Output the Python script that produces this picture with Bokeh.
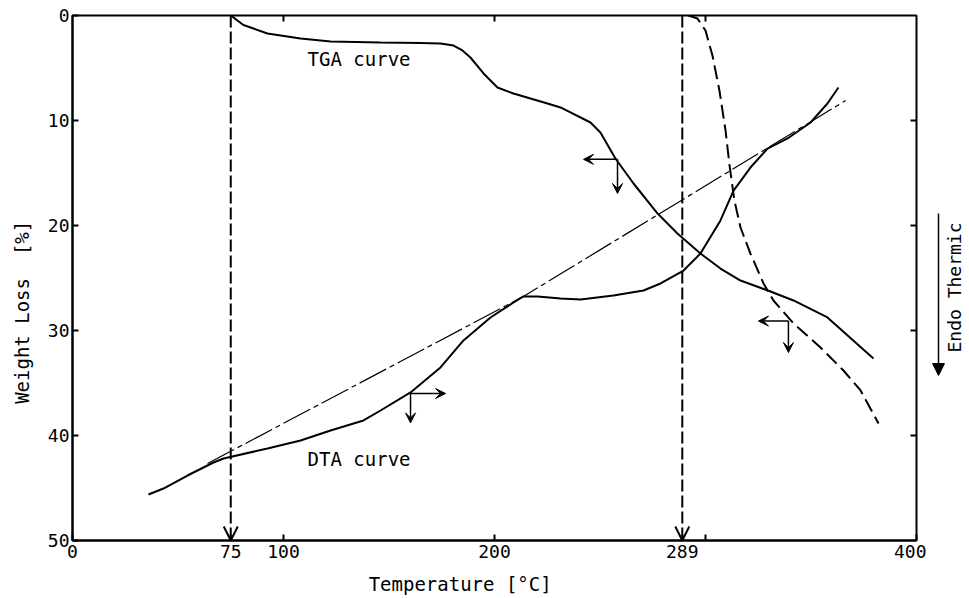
import numpy as np
from bokeh.plotting import figure
from bokeh.layouts import row
from bokeh.models import (Range1d, FixedTicker, Arrow, OpenHead,
                          VeeHead, NormalHead, Label)
from bokeh.embed import file_html
from bokeh.resources import INLINE

FONT = "DejaVu Sans Mono"
NB = "\u00a0"

# ---------------- data ----------------
x_ticks = [0, 75, 100, 200, 289, 300, 400]
x_tick_labels = {0: "0", 75: "75", 100: "100", 200: "200", 289: "289", 300: "", 400: "400"}
y_ticks = [0, 10, 20, 30, 40, 50]
top_ticks = [100, 200, 300]
right_ticks = [10, 20, 30, 40]

# TGA curve (solid)
tga_temp = [75, 81, 92.4, 108.1, 122.3, 146.0, 164.9, 174.4, 180.6, 184.8, 188.6,
            194.8, 201.4, 209.0, 225.1, 231.3, 245.5, 250.2, 257.3, 265.9, 277.3,
            286.7, 297.6, 307.1, 316.6, 330.8, 341.7, 357.8, 379.6]
tga_loss = [0.0, 0.9, 1.71, 2.19, 2.48, 2.57, 2.62, 2.67, 2.86, 3.33, 4.0,
            5.52, 6.86, 7.43, 8.38, 8.76, 10.19, 11.14, 13.62, 16.0, 18.86,
            20.76, 22.67, 24.10, 25.24, 26.29, 27.14, 28.76, 32.67]

# DTA curve (solid)
dta_temp = [36.0, 43.1, 54.5, 66.8, 71.6, 92.4, 108.1, 122.3, 137.9, 146.0, 160.2,
            174.4, 185.3, 198.1, 209.0, 213.7, 220.4, 231.3, 240.8, 256.4, 270.6,
            278.7, 289.6, 297.6, 307.1, 313.3, 321.3, 329.4, 338.9, 349.8, 357.8, 363.0]
dta_val = [45.62, 45.05, 43.81, 42.57, 42.19, 41.24, 40.48, 39.52, 38.57, 37.62, 35.90,
           33.52, 30.95, 28.76, 27.33, 26.76, 26.76, 26.95, 27.05, 26.67, 26.19,
           25.52, 24.29, 22.67, 19.52, 16.67, 14.48, 12.67, 11.71, 10.19, 8.38, 6.86]

# second (dashed) curve
dash_temp = [291.9, 296.2, 300.0, 303.3, 306.6, 309.5, 311.4, 313.7, 316.6, 321.3,
             327.5, 332.2, 341.7, 354.5, 365.4, 373.5, 382.0]
dash_val = [0.0, 0.29, 1.43, 3.81, 7.14, 10.95, 14.29, 17.62, 20.19, 22.67,
            25.52, 27.14, 29.33, 31.62, 33.81, 35.71, 38.86]

# DTA baseline (dash-dot)
base_temp = [64.0, 213.7, 366.4]
base_val = [42.67, 26.76, 8.10]

# marked temperatures
marker_temps = [75, 289]

# axis-direction indicators: corner x, corner y, horizontal tip x, vertical tip y
ind_x = [258.3, 160.2, 339.3]
ind_y = [13.7, 36.0, 29.1]
ind_hx = [242.2, 176.8, 325.1]
ind_vy = [16.95, 38.8, 32.1]

X_MIN, X_MAX = 0, 400
Y_TOP, Y_BOTTOM = 0, 50

# ---------------- main figure ----------------
p = figure(frame_width=844, frame_height=525, output_backend="svg",
           toolbar_location=None, x_range=Range1d(X_MIN, X_MAX),
           y_range=Range1d(Y_BOTTOM, Y_TOP),
           min_border_left=72, min_border_right=10, min_border_top=15,
           min_border_bottom=57, background_fill_color="white",
           border_fill_color="white")
p.outline_line_color = "black"
p.outline_line_width = 2
p.xgrid.visible = False
p.ygrid.visible = False

for ax in (p.xaxis[0], p.yaxis[0]):
    ax.axis_line_width = 2
    ax.major_tick_in = 6
    ax.major_tick_out = 0
    ax.major_tick_line_width = 2
    ax.minor_tick_line_color = None
    ax.major_label_text_font = FONT
    ax.major_label_text_font_size = "18px"
    ax.major_label_text_color = "black"
    ax.axis_label_text_font = FONT
    ax.axis_label_text_font_size = "19px"
    ax.axis_label_text_font_style = "normal"
    ax.axis_label_text_color = "black"

p.xaxis[0].ticker = FixedTicker(ticks=x_ticks)
p.xaxis[0].major_label_overrides = x_tick_labels
p.xaxis[0].major_label_standoff = 4
p.xaxis[0].axis_label = "Temperature [°C]" + NB * 6
p.xaxis[0].axis_label_standoff = 12
p.yaxis[0].ticker = FixedTicker(ticks=y_ticks)
p.yaxis[0].major_label_standoff = 3
p.yaxis[0].axis_label = "Weight Loss " + NB + "[%]" + NB * 6
p.yaxis[0].axis_label_standoff = 12

# inward tick marks on the top and right frame edges (half of each dash is clipped)
p.scatter(top_ticks, [Y_TOP] * len(top_ticks), marker="dash", angle=np.pi / 2,
          size=12, line_color="black", line_width=2)
p.scatter([X_MAX] * len(right_ticks), right_ticks, marker="dash",
          size=12, line_color="black", line_width=2)

# curves
p.line(base_temp, base_val, line_color="black", line_width=1.2, line_dash="30 4 5 4")
p.line(tga_temp, tga_loss, line_color="black", line_width=2)
p.line(dta_temp, dta_val, line_color="black", line_width=2)
p.line(dash_temp, dash_val, line_color="black", line_width=2, line_dash="14 6")

# vertical marker lines with arrowheads
for t in marker_temps:
    p.add_layout(Arrow(x_start=t, y_start=Y_TOP, x_end=t, y_end=Y_BOTTOM,
                       line_width=2, line_dash="12 4", line_color="black",
                       end=OpenHead(size=14, line_width=2, line_color="black")))

# direction indicators
for cx, cy, hx, vy in zip(ind_x, ind_y, ind_hx, ind_vy):
    p.add_layout(Arrow(x_start=cx, y_start=cy, x_end=hx, y_end=cy, line_width=1.5,
                       end=VeeHead(size=10, line_width=1, fill_color="black")))
    p.add_layout(Arrow(x_start=cx, y_start=cy, x_end=cx, y_end=vy, line_width=1.5,
                       end=VeeHead(size=10, line_width=1, fill_color="black")))

# curve labels
p.add_layout(Label(x=111.4, y=4.1, text="TGA curve", text_font=FONT, text_font_size="19px",
                   text_align="left", text_baseline="middle", text_color="black"))
p.add_layout(Label(x=111.4, y=42.2, text="DTA curve", text_font=FONT, text_font_size="19px",
                   text_align="left", text_baseline="middle", text_color="black"))

# ---------------- right side: Endo Thermic indicator ----------------
side_w = 40
q = figure(frame_width=side_w, frame_height=525, output_backend="svg",
           toolbar_location=None, x_range=Range1d(0, side_w), y_range=Range1d(540, 15),
           min_border_left=0, min_border_right=0, min_border_top=15,
           min_border_bottom=57, outline_line_color=None,
           background_fill_color="white", border_fill_color="white")
q.axis.visible = False
q.grid.visible = False
q.add_layout(Label(x=28, y=287, text="Endo Thermic", text_font=FONT,
                   text_font_size="18px", text_align="center", text_baseline="middle",
                   angle=np.pi / 2, text_color="black"))
q.add_layout(Arrow(x_start=12, y_start=213, x_end=12, y_end=375, line_width=1.5,
                   end=NormalHead(size=12, line_width=1, fill_color="black")))

layout = row(p, q, spacing=0)
open("out.html", "w").write(file_html(layout, INLINE))
